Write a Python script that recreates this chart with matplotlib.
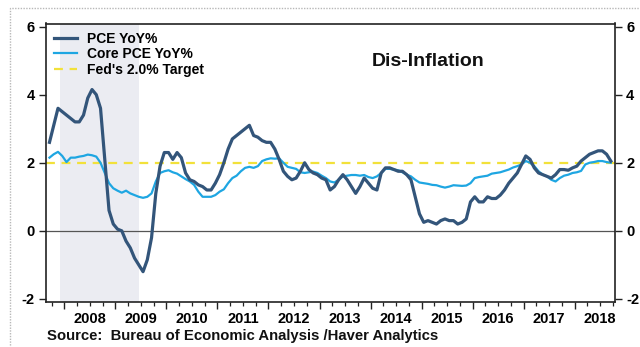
import matplotlib
matplotlib.use("Agg")
import matplotlib.pyplot as plt
import numpy as np
from matplotlib.lines import Line2D
from matplotlib.patches import Rectangle
from matplotlib.ticker import FixedLocator, FixedFormatter

plt.rcParams['font.family'] = ['Liberation Sans', 'DejaVu Sans']
plt.rcParams['font.weight'] = 'bold'

# Monthly series, Sep 2007 through Sep 2018 (year-over-year % change)
start_year, start_month = 2007, 9

pce_yoy = [
    # 2007 Sep-Dec
    2.6, 3.1, 3.6, 3.5,
    # 2008
    3.4, 3.3, 3.2, 3.2, 3.4, 3.9, 4.15, 4.0, 3.6, 2.1, 0.6, 0.2,
    # 2009
    0.05, 0.0, -0.3, -0.5, -0.8, -1.0, -1.2, -0.85, -0.2, 1.1, 1.9, 2.3,
    # 2010
    2.3, 2.1, 2.3, 2.15, 1.7, 1.5, 1.45, 1.35, 1.3, 1.2, 1.2, 1.4,
    # 2011
    1.65, 2.0, 2.4, 2.7, 2.8, 2.9, 3.0, 3.1, 2.8, 2.75, 2.65, 2.6,
    # 2012
    2.6, 2.4, 2.1, 1.75, 1.6, 1.5, 1.55, 1.75, 2.0, 1.8, 1.7, 1.65,
    # 2013
    1.55, 1.5, 1.2, 1.3, 1.5, 1.65, 1.5, 1.3, 1.1, 1.3, 1.55, 1.4,
    # 2014
    1.25, 1.2, 1.7, 1.85, 1.85, 1.8, 1.75, 1.75, 1.65, 1.5, 1.0, 0.5,
    # 2015
    0.25, 0.3, 0.25, 0.2, 0.3, 0.35, 0.3, 0.3, 0.2, 0.25, 0.35, 0.85,
    # 2016
    1.0, 0.85, 0.85, 1.0, 0.95, 0.95, 1.05, 1.2, 1.4, 1.55, 1.7, 1.95,
    # 2017
    2.2, 2.1, 1.85, 1.7, 1.65, 1.6, 1.55, 1.65, 1.8, 1.8, 1.78, 1.85,
    # 2018 Jan-Sep
    1.9, 2.05, 2.15, 2.25, 2.3, 2.35, 2.35, 2.25, 2.05,
]

core_pce_yoy = [
    # 2007 Sep-Dec
    2.15, 2.25, 2.32, 2.2,
    # 2008
    2.02, 2.15, 2.15, 2.18, 2.2, 2.24, 2.22, 2.18, 2.0, 1.7, 1.4, 1.25,
    # 2009
    1.18, 1.12, 1.18, 1.1, 1.05, 1.0, 0.97, 1.0, 1.1, 1.45, 1.7, 1.75,
    # 2010
    1.78, 1.72, 1.68, 1.6, 1.52, 1.45, 1.35, 1.15, 1.0, 1.0, 1.0, 1.05,
    # 2011
    1.15, 1.22, 1.4, 1.55, 1.62, 1.75, 1.85, 1.88, 1.85, 1.9, 2.05, 2.1,
    # 2012
    2.13, 2.12, 2.13, 2.0, 1.88, 1.85, 1.82, 1.72, 1.7, 1.72, 1.74, 1.7,
    # 2013
    1.62, 1.55, 1.45, 1.42, 1.5, 1.6, 1.62, 1.64, 1.64, 1.62, 1.64, 1.58,
    # 2014
    1.55, 1.6, 1.7, 1.82, 1.82, 1.8, 1.78, 1.72, 1.65, 1.6, 1.5, 1.42,
    # 2015
    1.4, 1.38, 1.35, 1.34, 1.3, 1.27, 1.3, 1.34, 1.33, 1.32, 1.33, 1.4,
    # 2016
    1.55, 1.58, 1.6, 1.62, 1.68, 1.7, 1.72, 1.76, 1.8, 1.86, 1.9, 1.95,
    # 2017
    2.05, 2.0, 1.9, 1.75, 1.65, 1.6, 1.5, 1.45, 1.55, 1.62, 1.65, 1.7,
    # 2018 Jan-Sep
    1.72, 1.76, 1.95, 2.0, 2.02, 2.05, 2.05, 2.02, 2.0,
]

fed_target = 2.0
recession = (2007 + 11.5 / 12 - 0.04, 2009 + 5.5 / 12)   # Dec 2007 - Jun 2009
year_labels = [str(y) for y in range(2008, 2019)]
y_ticks = [-2, 0, 2, 4, 6]

# Decimal-year position of each month (mid-month)
n = len(pce_yoy)
t = np.array([start_year + (start_month - 1 + i + 0.5) / 12 for i in range(n)])

DARK = '#33557a'
LIGHT = '#1ea6e2'
YELLOW = '#f2e13a'

fig = plt.figure(figsize=(6.4, 3.47), dpi=100)
ax = fig.add_axes([46 / 640, 1 - 302 / 347, (615 - 46) / 640, (302 - 23.5) / 347])

ax.set_xlim(2007.64, 2018.79)
ax.set_ylim(-2.09, 6.09)

ax.axvspan(recession[0], recession[1], color='#ebecf2', lw=0, zorder=0)
ax.axhline(0, color='#555555', lw=0.9, zorder=1)
ax.axhline(fed_target, color=YELLOW, lw=1.6, ls=(0, (4, 3)), zorder=2)
ax.plot(t, core_pce_yoy, color=LIGHT, lw=1.6, zorder=3)
ax.plot(t, pce_yoy, color=DARK, lw=2.3, zorder=4)

# x axis: long ticks at year boundaries, short ticks each quarter,
# year names centred on each year
years = np.arange(2008, 2019)
ax.xaxis.set_major_locator(FixedLocator(years))
ax.xaxis.set_major_formatter(FixedFormatter([''] * len(years)))
quarters = []
qlabels = []
for y in range(2007, 2019):
    for q in (0.25, 0.5, 0.75):
        pos = y + q
        if 2007.64 <= pos <= 2018.79:
            quarters.append(pos)
            qlabels.append(str(y) if q == 0.5 and y >= 2008 else '')
ax.xaxis.set_minor_locator(FixedLocator(quarters))
ax.xaxis.set_minor_formatter(FixedFormatter(qlabels))
ax.tick_params(axis='x', which='major', direction='out', length=5, width=1.0, color='#222222')
ax.tick_params(axis='x', which='minor', direction='out', length=3, width=0.9,
               color='#222222', labelsize=10.5, pad=4)

ax.set_yticks(y_ticks)
ax.set_yticklabels([str(v) for v in y_ticks])
ax.tick_params(axis='y', direction='out', length=5, width=1.0, labelsize=10.5,
               left=True, right=True, labelleft=True, labelright=True, pad=3,
               color='#222222')

for s in ax.spines.values():
    s.set_color('#222222')
    s.set_linewidth(1.2)

handles = [
    Line2D([], [], color=DARK, lw=2.3),
    Line2D([], [], color=LIGHT, lw=1.6),
    Line2D([], [], color=YELLOW, lw=1.6, ls=(0, (4, 3))),
]
ax.legend(handles, ['PCE YoY%', 'Core PCE YoY%', "Fed's 2.0% Target"],
          loc='upper left', bbox_to_anchor=(0.0, 1.0), frameon=False,
          prop={'size': 10, 'weight': 'bold'}, handlelength=1.65, handletextpad=0.7,
          labelspacing=0.1, borderaxespad=0.2)

ax.text(0.672, 0.865, 'Dis-Inflation', transform=ax.transAxes, ha='center', va='center',
        fontsize=14, fontweight='bold', color='#111111')

fig.text(47 / 640, 1 - 336 / 347, 'Source:  Bureau of Economic Analysis /Haver Analytics',
         ha='left', va='center', fontsize=10.7, color='#111111')

# outer frame
fig.patches.append(Rectangle((10 / 640, -0.1), 1.2, 1 - 8 / 347 + 0.1,
                             transform=fig.transFigure, fill=False,
                             edgecolor='#b8b8b8', lw=1.0, ls=(0, (1, 1))))

fig.savefig('out.png', dpi=100)
